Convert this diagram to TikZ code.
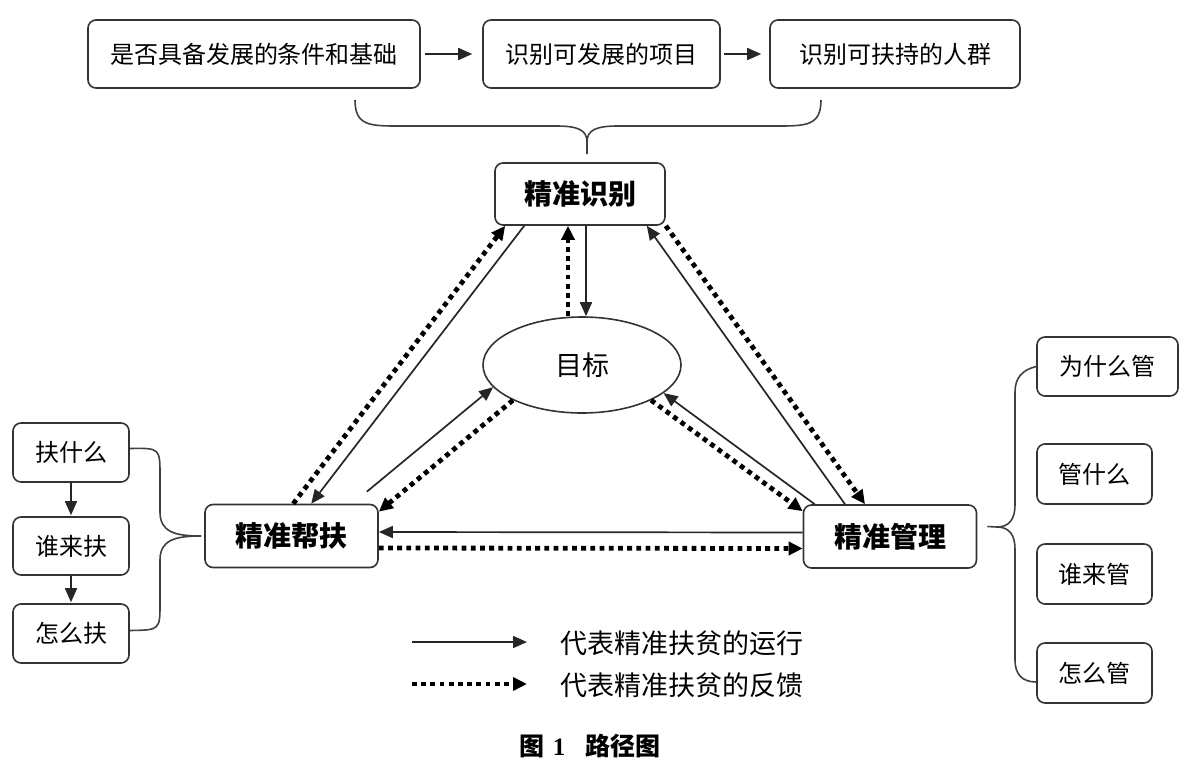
\documentclass[tikz,border=0pt]{standalone}
\usepackage{fontspec}
\setmainfont{Noto Sans CJK SC}
\newfontfamily\serifnum{Liberation Serif}
\usetikzlibrary{arrows.meta,shapes.geometric,calc}
\begin{document}
\begin{tikzpicture}[x=1pt,y=-1pt,
  box/.style={draw=black!80,line width=1.6pt,rounded corners=8pt,inner sep=0pt,
    font=\fontsize{24pt}{28pt}\selectfont},
  mainbox/.style={box,font=\fontsize{28pt}{32pt}\selectfont\bfseries},
  run/.style={draw=black!85,line width=1.7pt,-{Triangle[length=14pt,width=12pt]}},
  fb/.style={draw=black,line width=4.8pt,dash pattern=on 4.8pt off 4.4pt,
    -{Triangle[length=14pt,width=13pt]}},
  brace/.style={draw=black!75,line width=1.6pt},
  legtext/.style={font=\fontsize{27pt}{30pt}\selectfont,anchor=west,inner sep=0pt}
]
\useasboundingbox (0,0) rectangle (1200,761);

% top row
\node[box,minimum width=332pt,minimum height=68pt] (b1) at (254,54) {是否具备发展的条件和基础};
\node[box,minimum width=237pt,minimum height=68pt] (b2) at (601.5,54) {识别可发展的项目};
\node[box,minimum width=250pt,minimum height=68pt] (b3) at (895,54) {识别可扶持的人群};
\draw[run,shorten <=4pt,shorten >=10pt] (b1.east) -- (b2.west);
\draw[run,shorten <=3pt,shorten >=8pt] (b2.east) -- (b3.west);

% main nodes
\node[mainbox,minimum width=170pt,minimum height=62pt] (si) at (580,194) {精准识别};
\node[draw=black!80,line width=1.6pt,ellipse,minimum width=198pt,minimum height=96pt,inner sep=0pt,
  font=\fontsize{27pt}{30pt}\selectfont] (mb) at (582,365) {目标};
\node[mainbox,minimum width=173pt,minimum height=63pt] (bf) at (291.5,536) {精准帮扶};
\node[mainbox,minimum width=173pt,minimum height=63pt] (gl) at (890,536.5) {精准管理};

% top brace
\coordinate (tb) at ($(si.north)+(7,-8)$);
\draw[brace] (355,100) .. controls (355,126) and (370,126) .. (400,126) -- (556,126)
  .. controls (578,126) and (587,130) .. (587,142) -- (tb);
\draw[brace] (821,100) .. controls (821,126) and (806,126) .. (776,126) -- (618,126)
  .. controls (596,126) and (587,130) .. (587,142);

% left boxes
\node[box,minimum width=116pt,minimum height=59pt] (l1) at (71,452.5) {扶什么};
\node[box,minimum width=116pt,minimum height=58pt] (l2) at (71,546) {谁来扶};
\node[box,minimum width=116pt,minimum height=59pt] (l3) at (71,633.5) {怎么扶};
\draw[run,shorten >=1pt] (l1) -- (l2);
\draw[run,shorten >=1pt] (l2) -- (l3);
\coordinate (lt) at ($(bf.west)+(-3,0)$);
\draw[brace] ($(l1.east)+(0,-4)$) .. controls (160,448) .. (160,476) -- (160,512)
  .. controls (160,532) and (175,536) .. (lt);
\draw[brace] ($(l3.east)+(0,-3)$) .. controls (160,630) .. (160,603) -- (160,560)
  .. controls (160,540) and (175,536) .. (lt);

% right boxes
\node[box,minimum width=141pt,minimum height=59pt] (r1) at (1107.5,366.5) {为什么管};
\node[box,minimum width=115pt,minimum height=60pt] (r2) at (1094.5,474) {管什么};
\node[box,minimum width=115pt,minimum height=60pt] (r3) at (1094.5,574) {谁来管};
\node[box,minimum width=115pt,minimum height=60pt] (r4) at (1094.5,673) {怎么管};
\coordinate (rt) at ($(gl.east)+(10,-10)$);
\draw[brace] (rt) -- (997,527) .. controls (1010,527) and (1015,518) .. (1015,505) -- (1015,392)
  .. controls (1015,378) and (1022,370) .. (r1.west);
\draw[brace] (997,527) .. controls (1010,527) and (1015,536) .. (1015,549) -- (1015,660)
  .. controls (1015,674) and (1022,682) .. ($(r4.west)+(0,9)$);

% connectors: identification <-> target
\draw[run] ([xshift=6pt]si.south) -- ([xshift=4pt]mb.north);
\draw[fb] ([xshift=-14pt]mb.north) -- ([xshift=-12pt]si.south);

% left side
\draw[fb] ([xshift=89pt]bf.north west) -- ([xshift=11pt]si.south west);
\draw[run] ([xshift=30pt]si.south west) -- ([xshift=107pt]bf.north west);

% right side
\draw[run] ([xshift=-45pt]gl.north) -- ([xshift=-19pt]si.south east);
\draw[fb] (si.south east) -- ([xshift=-25pt]gl.north);

% target <-> assistance
\draw[run] ([shift={(-12pt,12pt)}]bf.north east) -- (mb.194);
\draw[fb] (mb.207) -- ([yshift=-8pt]bf.north east);

% target <-> management
\draw[fb] (mb.-27) -- ([yshift=-7pt]gl.north west);
\draw[run] ([xshift=12pt]gl.north west) -- (mb.-19);

% bottom
\draw[run] ([yshift=4pt]gl.west) -- ([yshift=4pt]bf.east);
\draw[fb] ([yshift=-12pt]bf.east) -- ([yshift=-12pt]gl.west);

% legend
\coordinate (la1) at (412,642);
\coordinate (la2) at (527,642);
\coordinate (lb1) at (412,684);
\coordinate (lb2) at (527,684);
\draw[run] (la1) -- (la2);
\draw[fb] (lb1) -- (lb2);
\node[legtext] (lt1) at (560,643) {代表精准扶贫的运行};
\node[legtext] (lt2) at (560,685) {代表精准扶贫的反馈};

% caption
\node[font=\fontsize{25pt}{28pt}\selectfont\bfseries] (cap) at (590,746) {图\hspace{8pt}{\serifnum 1}\hspace{20pt}路径图};
\end{tikzpicture}
\end{document}
